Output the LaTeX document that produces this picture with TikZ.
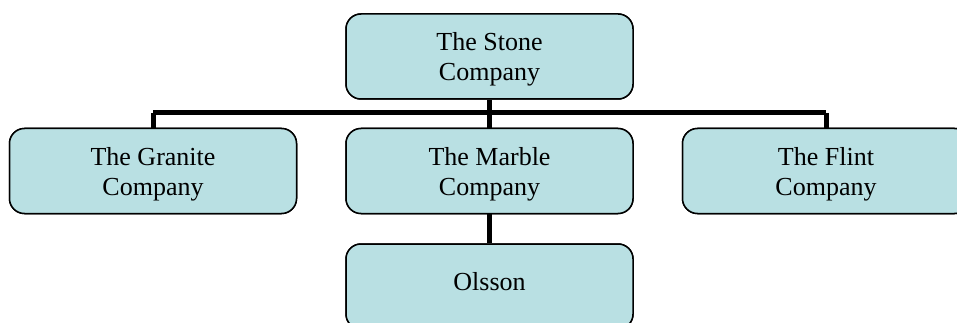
\documentclass[tikz,border=0pt]{standalone}
\usepackage{fontspec}
\setmainfont{Liberation Serif}
\definecolor{boxfill}{RGB}{185,224,227}
\begin{document}
\begin{tikzpicture}[x=1pt,y=-1pt,
  orgbox/.style={draw=black, line width=1.5pt, fill=boxfill, rounded corners=15pt,
    minimum width=287pt, minimum height=85pt, inner sep=0pt},
  orgtext/.style={inner sep=0pt, align=center, font=\fontsize{26}{30}\selectfont},
  link/.style={line width=5pt}]
\clip (0,0) rectangle (957,323);
\coordinate (bar) at (489.5,113);
% boxes
\node[orgbox] (stone)   at (489.5,56.5) {};
\node[orgbox] (granite) at (153,171)    {};
\node[orgbox] (marble)  at (489.5,171)  {};
\node[orgbox] (flint)   at (826,171)    {};
\node[orgbox] (olsson)  at (489.5,286.5) {};
% reporting lines
\draw[link] (stone.south) -- (marble.north);
\draw[link] (bar -| granite.north) -- (bar -| flint.north);
\draw[link] (bar -| granite.north) -- (granite.north);
\draw[link] (bar -| flint.north) -- (flint.north);
\draw[link] (marble.south) -- (olsson.north);
% redraw box outlines over the line ends, then the labels
\foreach \n in {stone,granite,marble,flint,olsson}
  \node[orgbox] at (\n) {};
\node[orgtext, yshift=-3pt] (stonet)   at (stone)   {The Stone\\Company};
\node[orgtext, yshift=-3pt] (granitet) at (granite) {The Granite\\Company};
\node[orgtext, yshift=-3pt] (marblet)  at (marble)  {The Marble\\Company};
\node[orgtext, yshift=-3pt] (flintt)   at (flint)   {The Flint\\Company};
\node[orgtext, yshift=5pt]  (olssont)  at (olsson)  {Olsson};
\end{tikzpicture}
\end{document}
